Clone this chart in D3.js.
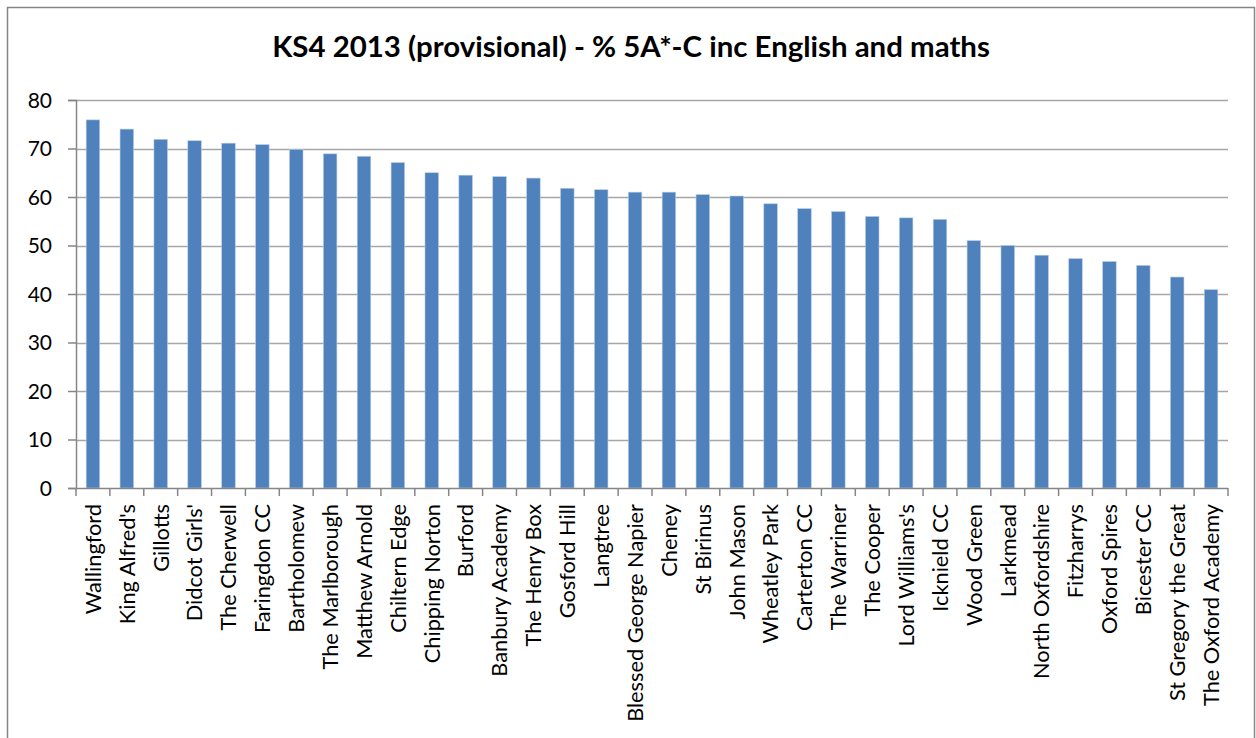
<!DOCTYPE html>
<html>
<head>
<meta charset="utf-8">
<script src="https://cdn.jsdelivr.net/npm/d3@7"></script>
<style>
  html, body { margin: 0; padding: 0; background: #fff; }
  svg { display: block; }
  text { font-family: Lato, "Open Sans", sans-serif; fill: #000; }
</style>
</head>
<body>
<svg id="chart" width="1256" height="738"></svg>
<script>
const chartTitle = "KS4 2013 (provisional) - % 5A*-C inc English and maths";

const schools = [
  "Wallingford", "King Alfred's", "Gillotts", "Didcot Girls'", "The Cherwell",
  "Faringdon CC", "Bartholomew", "The Marlborough", "Matthew Arnold", "Chiltern Edge",
  "Chipping Norton", "Burford", "Banbury Academy", "The Henry Box", "Gosford Hill",
  "Langtree", "Blessed George Napier", "Cheney", "St Birinus", "John Mason",
  "Wheatley Park", "Carterton CC", "The Warriner", "The Cooper", "Lord Williams's",
  "Icknield CC", "Wood Green", "Larkmead", "North Oxfordshire", "Fitzharrys",
  "Oxford Spires", "Bicester CC", "St Gregory the Great", "The Oxford Academy"
];

const pct5AC = [
  75.9, 74.0, 71.9, 71.6, 71.1,
  70.8, 69.8, 68.9, 68.4, 67.1,
  65.0, 64.5, 64.2, 63.9, 61.8,
  61.5, 61.0, 61.0, 60.5, 60.2,
  58.6, 57.6, 57.0, 56.0, 55.7,
  55.4, 51.0, 50.0, 48.0, 47.3,
  46.7, 45.9, 43.5, 40.9
];

const yTicks = [0, 10, 20, 30, 40, 50, 60, 70, 80];

const data = schools.map((s, i) => ({ name: s, value: pct5AC[i] }));

const svg = d3.select("#chart");

// chart frame
svg.append("rect")
  .attr("x", 7.5).attr("y", 7.5)
  .attr("width", 1247).attr("height", 740)
  .attr("fill", "#fff")
  .attr("stroke", "#868686")
  .attr("stroke-width", 1.5);

const plotL = 76, plotR = 1228, plotT = 100, plotB = 488;

const x = d3.scaleBand()
  .domain(schools)
  .range([plotL, plotR])
  .paddingInner(0.6)
  .paddingOuter(0.3);

const y = d3.scaleLinear()
  .domain([0, 80])
  .range([plotB, plotT]);

// gridlines
svg.append("g")
  .selectAll("line")
  .data(yTicks.filter(d => d > 0))
  .join("line")
  .attr("x1", plotL).attr("x2", plotR)
  .attr("y1", d => Math.round(y(d)) + 0.5)
  .attr("y2", d => Math.round(y(d)) + 0.5)
  .attr("stroke", "#a6a6a6")
  .attr("stroke-width", 1.5);

// y axis
const yAxis = svg.append("g")
  .attr("transform", `translate(${plotL},0)`)
  .call(d3.axisLeft(y).tickValues(yTicks).tickSize(8).tickPadding(16).tickFormat(d3.format("d")));
yAxis.select(".domain").attr("stroke", "#868686").attr("stroke-width", 1.5);
yAxis.selectAll(".tick line").attr("stroke", "#868686").attr("stroke-width", 1.5);
yAxis.selectAll(".tick text")
  .style("font-size", "21px")
  .attr("dy", "0.34em");

// bars
svg.append("g")
  .selectAll("rect")
  .data(data)
  .join("rect")
  .attr("x", d => x(d.name))
  .attr("width", x.bandwidth())
  .attr("y", d => y(d.value))
  .attr("height", d => y(0) - y(d.value))
  .attr("fill", "#4f81bd")
  .attr("stroke", "#b9cde5")
  .attr("stroke-width", 0.6);

// x axis
const step = x.step();
const xAxisG = svg.append("g").attr("transform", `translate(0,${plotB})`);
xAxisG.append("line")
  .attr("x1", plotL).attr("x2", plotR)
  .attr("y1", 0.5).attr("y2", 0.5)
  .attr("stroke", "#868686").attr("stroke-width", 1.5);
xAxisG.selectAll("line.tk")
  .data(d3.range(schools.length + 1))
  .join("line")
  .attr("class", "tk")
  .attr("x1", i => plotL + i * step).attr("x2", i => plotL + i * step)
  .attr("y1", 0).attr("y2", 8)
  .attr("stroke", "#868686").attr("stroke-width", 1.5);

const labels = xAxisG.selectAll("text.lbl")
  .data(schools)
  .join("text")
  .attr("class", "lbl")
  .attr("text-anchor", "end")
  .attr("transform", d => `translate(${x(d) + x.bandwidth() / 2},16) rotate(-90)`)
  .attr("dy", "0.36em")
  .style("font-size", "20px")
  .text(d => d);

// fit label size to reference length of longest label
const longest = labels.filter(d => d === "Blessed George Napier").node();
const wL = longest.getComputedTextLength();
const fsL = 20 * 218 / wL;
labels.style("font-size", fsL + "px");

// title
const title = svg.append("text")
  .attr("x", 631)
  .attr("y", 57)
  .attr("text-anchor", "middle")
  .style("font-size", "26px")
  .style("font-weight", "bold")
  .text(chartTitle);
const wT = title.node().getComputedTextLength();
title.style("font-size", (26 * 718 / wT) + "px");
</script>
</body>
</html>
